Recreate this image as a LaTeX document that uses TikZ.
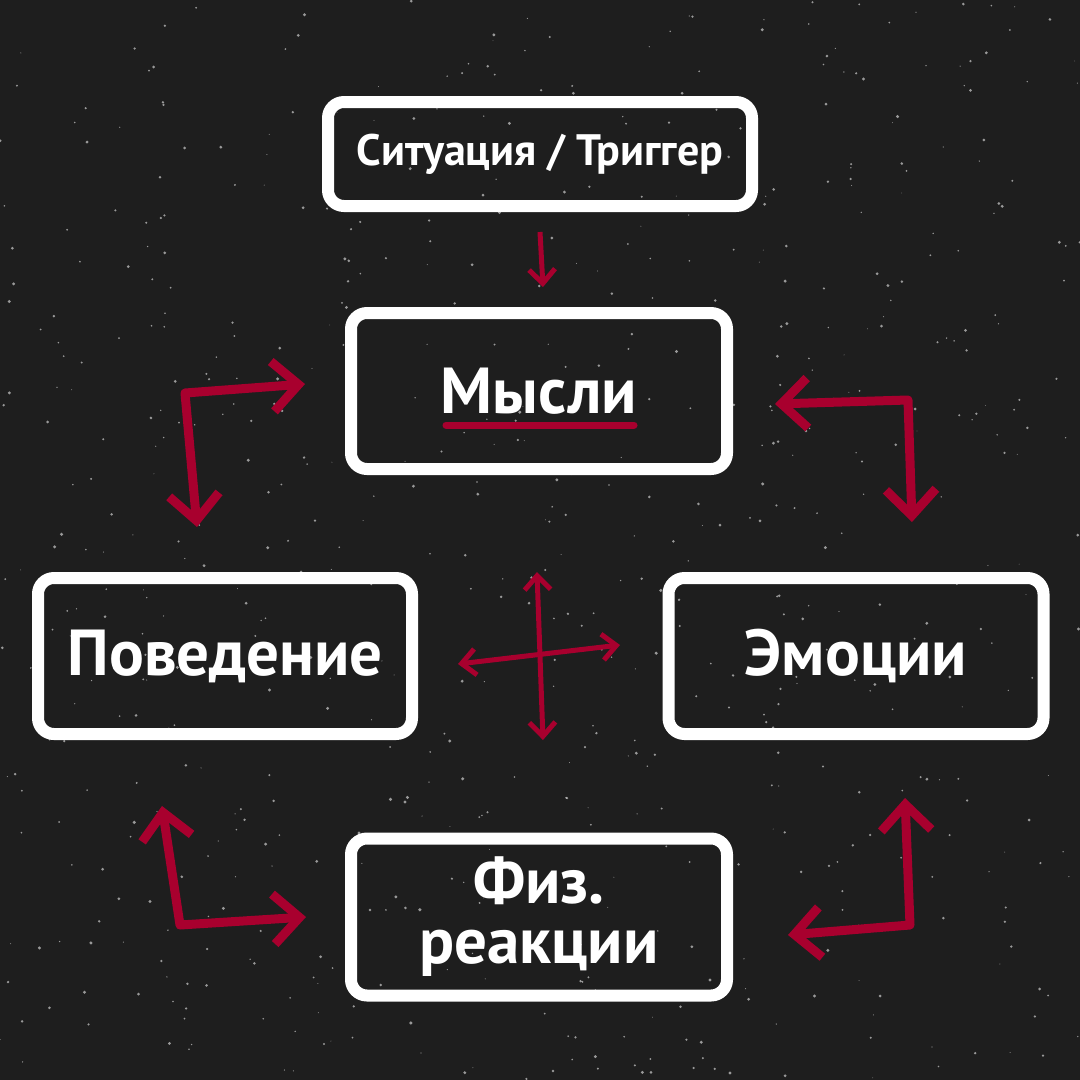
\documentclass[tikz,border=0pt]{standalone}
\usepackage{fontspec}
\setmainfont{PT Sans}
\usetikzlibrary{arrows.meta}
\definecolor{bg}{HTML}{1E1E1E}
\definecolor{rd}{HTML}{A8002E}
\tikzset{
  box/.style={draw=white,line width=12pt,rounded corners=16pt,text=white,font=\bfseries,align=center,inner sep=0pt},
  bigarrow/.style={draw=rd,line width=9pt,line join=round,{Straight Barb[length=26pt,width=50pt,line width=9pt]}-{Straight Barb[length=26pt,width=50pt,line width=9pt]}},
  thinarrow/.style={draw=rd,line width=5pt,{Straight Barb[length=14pt,width=26pt,line width=5pt]}-{Straight Barb[length=14pt,width=26pt,line width=5pt]}}
}
\begin{document}
\begin{tikzpicture}[x=1pt,y=-1pt]
\fill[bg] (0,0) rectangle (1080,1080);
\useasboundingbox (0,0) rectangle (1080,1080);
\pgfmathsetseed{7}
\foreach \i in {1,...,700}{
  \pgfmathsetmacro\px{rnd*1080}\pgfmathsetmacro\py{rnd*1080}\pgfmathsetmacro\pr{0.4+rnd*1.3}
  \fill[white,opacity=0.55] (\px,\py) circle (\pr);
}
\node[box,minimum width=424pt,minimum height=104pt,font=\bfseries\fontsize{44}{50}\selectfont] (sit) at (540,154) {Ситуация / Триггер};
\node[box,minimum width=376pt,minimum height=156pt,font=\bfseries\fontsize{65}{70}\selectfont] (mys) at (539,391) {Мысли};
\draw[rd,line width=7pt,line cap=round] (446,425) -- (634,425);
\node[box,minimum width=374pt,minimum height=156pt,font=\bfseries\fontsize{65}{70}\selectfont] (pov) at (225,656) {Поведение};
\node[box,minimum width=375pt,minimum height=156pt,font=\bfseries\fontsize{65}{70}\selectfont] (emo) at (856,656) {Эмоции};
\node[box,minimum width=376pt,minimum height=157pt,font=\bfseries\fontsize{65}{60}\selectfont] (fiz) at (539,917) {Физ.\\реакции};
\coordinate (s1) at (540,232); \coordinate (s2) at (543,287);
\draw[thinarrow,-{Straight Barb[length=14pt,width=26pt,line width=5pt]}] (s1) -- (s2);
\coordinate (a1) at (197,527); \coordinate (a2) at (185,393); \coordinate (a3) at (305,384);
\draw[bigarrow] (a1) -- (a2) -- (a3);
\coordinate (b1) at (775,404); \coordinate (b2) at (908,400); \coordinate (b3) at (912,522);
\draw[bigarrow] (b1) -- (b2) -- (b3);
\coordinate (c1) at (162,806); \coordinate (c2) at (180,925); \coordinate (c3) at (306,917);
\draw[bigarrow] (c1) -- (c2) -- (c3);
\coordinate (d1) at (788,935); \coordinate (d2) at (910,925); \coordinate (d3) at (905,798);
\draw[bigarrow] (d1) -- (d2) -- (d3);
\coordinate (v1) at (537,572); \coordinate (v2) at (543,740);
\draw[thinarrow] (v1) -- (v2);
\coordinate (h1) at (458,664); \coordinate (h2) at (620,645);
\draw[thinarrow] (h1) -- (h2);
\end{tikzpicture}
\end{document}
